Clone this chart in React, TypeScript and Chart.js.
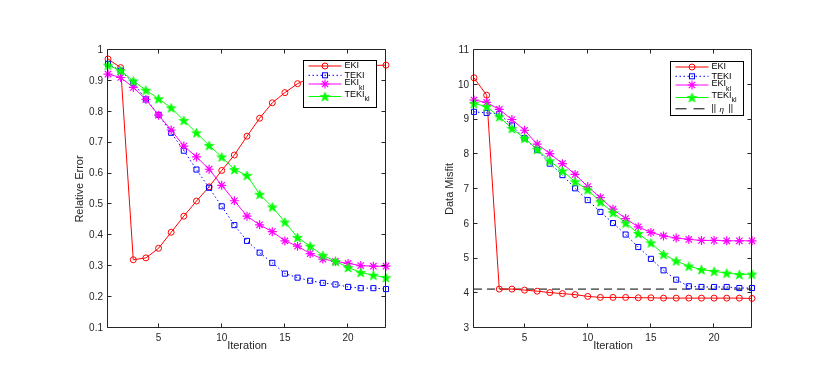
import React, { useEffect, useRef } from 'react';
import { Chart, registerables } from 'chart.js';
Chart.register(...registerables);

// ---------------- data ----------------
const iterations = [1, 2, 3, 4, 5, 6, 7, 8, 9, 10, 11, 12, 13, 14, 15, 16, 17, 18, 19, 20, 21, 22, 23];

const errEKI = [0.971, 0.943, 0.321, 0.327, 0.358, 0.41, 0.462, 0.511, 0.557, 0.61, 0.66, 0.721, 0.779, 0.829, 0.862, 0.891, 0.91, 0.925, 0.935, 0.942, 0.947, 0.95, 0.951];
const errTEKI = [0.955, 0.933, 0.894, 0.84, 0.79, 0.732, 0.674, 0.613, 0.554, 0.494, 0.433, 0.382, 0.344, 0.311, 0.276, 0.263, 0.253, 0.246, 0.241, 0.233, 0.229, 0.229, 0.226];
const errEKIkl = [0.922, 0.911, 0.879, 0.84, 0.789, 0.741, 0.689, 0.654, 0.614, 0.562, 0.512, 0.462, 0.434, 0.412, 0.382, 0.365, 0.341, 0.323, 0.316, 0.309, 0.302, 0.3, 0.3];
const errTEKIkl = [0.951, 0.933, 0.9, 0.87, 0.842, 0.813, 0.772, 0.732, 0.691, 0.654, 0.613, 0.594, 0.533, 0.492, 0.443, 0.393, 0.365, 0.335, 0.316, 0.296, 0.28, 0.271, 0.263];

const misEKI = [10.2, 9.7, 4.12, 4.12, 4.09, 4.06, 4.02, 3.99, 3.96, 3.91, 3.88, 3.88, 3.88, 3.87, 3.87, 3.86, 3.86, 3.86, 3.86, 3.86, 3.86, 3.86, 3.85];
const misTEKI = [9.22, 9.19, 9.16, 8.83, 8.46, 8.12, 7.73, 7.4, 7.02, 6.68, 6.34, 6.02, 5.69, 5.33, 4.99, 4.66, 4.39, 4.2, 4.18, 4.18, 4.18, 4.15, 4.15];
const misEKIkl = [9.56, 9.49, 9.29, 9.0, 8.69, 8.29, 8.02, 7.73, 7.42, 7.07, 6.75, 6.42, 6.15, 5.91, 5.75, 5.65, 5.59, 5.55, 5.52, 5.52, 5.51, 5.51, 5.51];
const misTEKIkl = [9.46, 9.37, 9.08, 8.74, 8.46, 8.14, 7.81, 7.52, 7.21, 6.98, 6.63, 6.32, 6.02, 5.72, 5.45, 5.12, 4.93, 4.78, 4.68, 4.63, 4.58, 4.54, 4.55];
const noiseLevel = [4.12, 4.12];
const noiseX = [1, 23];

const xTicks = [5, 10, 15, 20];
const errTicks = [0.1, 0.2, 0.3, 0.4, 0.5, 0.6, 0.7, 0.8, 0.9, 1];
const errTickLabels = ['0.1', '0.2', '0.3', '0.4', '0.5', '0.6', '0.7', '0.8', '0.9', '1'];
const misTicks = [3, 4, 5, 6, 7, 8, 9, 10, 11];
const misTickLabels = ['3', '4', '5', '6', '7', '8', '9', '10', '11'];

// ---------------- styling ----------------
const FONT = '"Liberation Sans", Arial, Helvetica, sans-serif';
const AXIS = '#262626';
const RED = '#ff0000';
const BLUE = '#0000ff';
const MAG = '#ff00ff';
const GRN = '#00ff00';

function makePentagram(size: number, color: string): HTMLCanvasElement {
  const c = document.createElement('canvas');
  c.width = size;
  c.height = size;
  const ctx = c.getContext('2d')!;
  const cx = size / 2, cy = size / 2 + 0.5;
  const R = size / 2 - 0.5;
  const r = R * 0.40;
  ctx.beginPath();
  for (let i = 0; i < 10; i++) {
    const a = -Math.PI / 2 + (i * Math.PI) / 5;
    const rad = i % 2 === 0 ? R : r;
    const x = cx + rad * Math.cos(a);
    const y = cy + rad * Math.sin(a);
    if (i === 0) ctx.moveTo(x, y); else ctx.lineTo(x, y);
  }
  ctx.closePath();
  ctx.fillStyle = color;
  ctx.fill();
  ctx.strokeStyle = color;
  ctx.lineWidth = 0.8;
  ctx.stroke();
  return c;
}

type Row = { text: string; sub?: string; color: string; dash?: number[]; marker?: string; y: number; lineY?: number; eta?: boolean };

function drawMarker(ctx: CanvasRenderingContext2D, kind: string | undefined, x: number, y: number, color: string, pent: HTMLCanvasElement) {
  ctx.save();
  ctx.setLineDash([]);
  ctx.strokeStyle = color;
  ctx.lineWidth = 1;
  if (kind === 'circle') {
    ctx.beginPath();
    ctx.arc(x, y, 3, 0, Math.PI * 2);
    ctx.stroke();
  } else if (kind === 'rect') {
    ctx.strokeRect(x - 2.5, y - 2.5, 5, 5);
  } else if (kind === 'star') {
    const r = 4.5;
    ctx.lineWidth = 1.2;
    ctx.beginPath();
    ctx.moveTo(x - r, y); ctx.lineTo(x + r, y);
    ctx.moveTo(x, y - r); ctx.lineTo(x, y + r);
    const d = r * Math.SQRT1_2;
    ctx.moveTo(x - d, y - d); ctx.lineTo(x + d, y + d);
    ctx.moveTo(x - d, y + d); ctx.lineTo(x + d, y - d);
    ctx.stroke();
  } else if (kind === 'pent') {
    ctx.drawImage(pent, x - pent.width / 2, y - pent.height / 2);
  }
  ctx.restore();
}

const framePlugin = {
  id: 'matlabFrame',
  afterDatasetsDraw(chart: any) {
    const ctx: CanvasRenderingContext2D = chart.ctx;
    const a = chart.chartArea;
    const L = a.left - 0.5, R = a.right - 0.5, T = a.top - 0.5, B = a.bottom - 0.5;
    ctx.save();
    ctx.strokeStyle = AXIS;
    ctx.lineWidth = 1;
    ctx.setLineDash([]);
    ctx.beginPath();
    ctx.rect(L, T, R - L, B - T);
    ctx.stroke();
    const tl = 4;
    const xs = chart.scales.x;
    const ys = chart.scales.y;
    ctx.beginPath();
    xs.ticks.forEach((t: any) => {
      const px = Math.round(xs.getPixelForValue(t.value)) - 0.5;
      ctx.moveTo(px, B); ctx.lineTo(px, B - tl);
      ctx.moveTo(px, T); ctx.lineTo(px, T + tl);
    });
    ys.ticks.forEach((t: any) => {
      const py = Math.round(ys.getPixelForValue(t.value)) - 0.5;
      ctx.moveTo(L, py); ctx.lineTo(L + tl, py);
      ctx.moveTo(R, py); ctx.lineTo(R - tl, py);
    });
    ctx.stroke();
    ctx.restore();
  },
  afterDraw(chart: any) {
    const opts = chart.options.plugins.matlabFrame;
    if (!opts) return;
    const ctx: CanvasRenderingContext2D = chart.ctx;
    const a = chart.chartArea;
    const w = opts.width, h = opts.height;
    const x0 = Math.round(a.right - opts.rightOffset - w) + 0.5;
    const y0 = Math.round(a.top + opts.topOffset) + 0.5;
    ctx.save();
    ctx.fillStyle = '#ffffff';
    ctx.fillRect(x0, y0, w, h);
    ctx.strokeStyle = '#000000';
    ctx.lineWidth = 1;
    ctx.strokeRect(x0, y0, w, h);
    (opts.rows as Row[]).forEach((row) => {
      const ly = y0 + (row.lineY ?? row.y);
      ctx.save();
      ctx.strokeStyle = row.color;
      ctx.lineWidth = 1;
      ctx.setLineDash(row.dash || []);
      ctx.beginPath();
      ctx.moveTo(x0 + 5, ly);
      ctx.lineTo(x0 + 38, ly);
      ctx.stroke();
      ctx.restore();
      drawMarker(ctx, row.marker, x0 + 21.5, ly, row.color, opts.pent);
      ctx.fillStyle = '#000000';
      ctx.textBaseline = 'middle';
      ctx.textAlign = 'left';
      const tx = x0 + 41;
      const ty = y0 + row.y;
      if (row.eta) {
        ctx.font = `9px ${FONT}`;
        ctx.fillText('||', tx, ty);
        ctx.font = `italic 8px ${FONT}`;
        ctx.fillText('η', tx + 8, ty + 1);
        ctx.font = `9px ${FONT}`;
        ctx.fillText('||', tx + 17, ty);
      } else {
        ctx.font = `9px ${FONT}`;
        ctx.fillText(row.text, tx, ty);
        if (row.sub) {
          const wMain = ctx.measureText(row.text).width;
          ctx.font = `7px ${FONT}`;
          ctx.fillText(row.sub, tx + wMain, ty + 5);
        }
      }
    });
    ctx.restore();
  },
};

function series(values: number[], xsArr: number[] = iterations) {
  return values.map((v, i) => ({ x: xsArr[i], y: v }));
}

function buildConfig(kind: 'err' | 'mis', pent: HTMLCanvasElement): any {
  const isErr = kind === 'err';
  const d1 = isErr ? errEKI : misEKI;
  const d2 = isErr ? errTEKI : misTEKI;
  const d3 = isErr ? errEKIkl : misEKIkl;
  const d4 = isErr ? errTEKIkl : misTEKIkl;
  const datasets: any[] = [
    {
      label: 'EKI', data: series(d1), borderColor: RED, borderWidth: 1,
      pointStyle: 'circle', pointRadius: 3, pointBorderColor: RED, pointBackgroundColor: 'rgba(0,0,0,0)', pointBorderWidth: 1,
      order: 5,
    },
    {
      label: 'TEKI', data: series(d2), borderColor: BLUE, borderWidth: 1, borderDash: [1.5, 2.5],
      pointStyle: 'rect', pointRadius: 3.6, pointBorderColor: BLUE, pointBackgroundColor: 'rgba(0,0,0,0)', pointBorderWidth: 1,
      order: 4,
    },
    {
      label: 'EKI_kl', data: series(d3), borderColor: MAG, borderWidth: 1,
      pointStyle: 'star', pointRadius: 4.5, pointBorderColor: MAG, pointBackgroundColor: MAG, pointBorderWidth: 1.2,
      order: 3,
    },
    {
      label: 'TEKI_kl', data: series(d4), borderColor: GRN, borderWidth: 1,
      pointStyle: pent, pointRadius: 5, pointBorderColor: GRN, pointBackgroundColor: GRN,
      order: 2,
    },
  ];
  if (!isErr) {
    datasets.push({
      label: '||eta||', data: series(noiseLevel, noiseX), borderColor: '#000000', borderWidth: 1, borderDash: [8, 5],
      pointRadius: 0, order: 6,
    });
  }
  const rows: Row[] = [
    { text: 'EKI', color: RED, marker: 'circle', y: 5.5 },
    { text: 'TEKI', color: BLUE, marker: 'rect', dash: [1.5, 2.5], y: 14.8 },
    { text: 'EKI', sub: 'kl', color: MAG, marker: 'star', y: 22.5, lineY: 23.5 },
    { text: 'TEKI', sub: 'kl', color: GRN, marker: 'pent', y: 34, lineY: 36 },
  ];
  if (!isErr) rows.push({ text: '', eta: true, color: '#000000', dash: [11, 7], y: 47.3 });

  const yTicks = isErr ? errTicks : misTicks;
  const yLabels = isErr ? errTickLabels : misTickLabels;

  return {
    type: 'line',
    data: { datasets },
    plugins: [framePlugin],
    options: {
      animation: false,
      responsive: false,
      devicePixelRatio: 1,
      events: [],
      clip: false,
      datasets: { line: { clip: false } },
      layout: { padding: { left: 0, top: 50, right: isErr ? 29 : 78, bottom: 0 } },
      elements: { line: { tension: 0 } },
      plugins: {
        legend: { display: false },
        tooltip: { enabled: false },
        title: { display: false },
        matlabFrame: {
          rightOffset: isErr ? 10 : 9.5,
          topOffset: isErr ? 10 : 11,
          width: 73,
          height: isErr ? 47 : 54,
          rows,
          pent,
        },
      },
      scales: {
        x: {
          type: 'linear',
          min: 1,
          max: 23,
          afterBuildTicks: (s: any) => { s.ticks = xTicks.map((v) => ({ value: v })); },
          afterFit: (s: any) => { s.height = 64; },
          grid: { display: false, drawTicks: false },
          border: { display: false },
          ticks: { color: AXIS, font: { family: FONT, size: 10 }, padding: 4, maxRotation: 0, autoSkip: false, callback: (v: any) => String(v) },
          title: { display: true, text: 'Iteration', color: AXIS, font: { family: FONT, size: 11 }, padding: { top: 0, bottom: 39.4 } },
        },
        y: {
          type: 'linear',
          min: isErr ? 0.1 : 3,
          max: isErr ? 1 : 11,
          afterBuildTicks: (s: any) => { s.ticks = yTicks.map((v) => ({ value: v })); },
          afterFit: (s: any) => { s.width = isErr ? 108 : 59; },
          grid: { display: false, drawTicks: false },
          border: { display: false },
          ticks: { color: AXIS, font: { family: FONT, size: 10 }, padding: 5, autoSkip: false, callback: (_v: any, i: number) => yLabels[i] },
          title: { display: true, text: isErr ? 'Relative Error' : 'Data Misfit', color: AXIS, font: { family: FONT, size: 11 }, padding: { top: isErr ? 73.4 : 28.4, bottom: 0 } },
        },
      },
    },
  };
}

function Panel({ kind, left }: { kind: 'err' | 'mis'; left: number }) {
  const ref = useRef<HTMLCanvasElement | null>(null);
  useEffect(() => {
    if (!ref.current) return;
    const pent = makePentagram(11, GRN);
    const chart = new Chart(ref.current, buildConfig(kind, pent));
    return () => chart.destroy();
  }, [kind]);
  return (
    <div style={{ position: 'absolute', left, top: 0, width: 415, height: 392 }}>
      <canvas ref={ref} width={415} height={392} style={{ width: 415, height: 392, display: 'block' }} />
    </div>
  );
}

export default function App() {
  return (
    <div style={{ position: 'fixed', left: 0, top: 0, width: 830, height: 392, background: '#ffffff', overflow: 'hidden' }}>
      <Panel kind="err" left={0} />
      <Panel kind="mis" left={415} />
    </div>
  );
}
